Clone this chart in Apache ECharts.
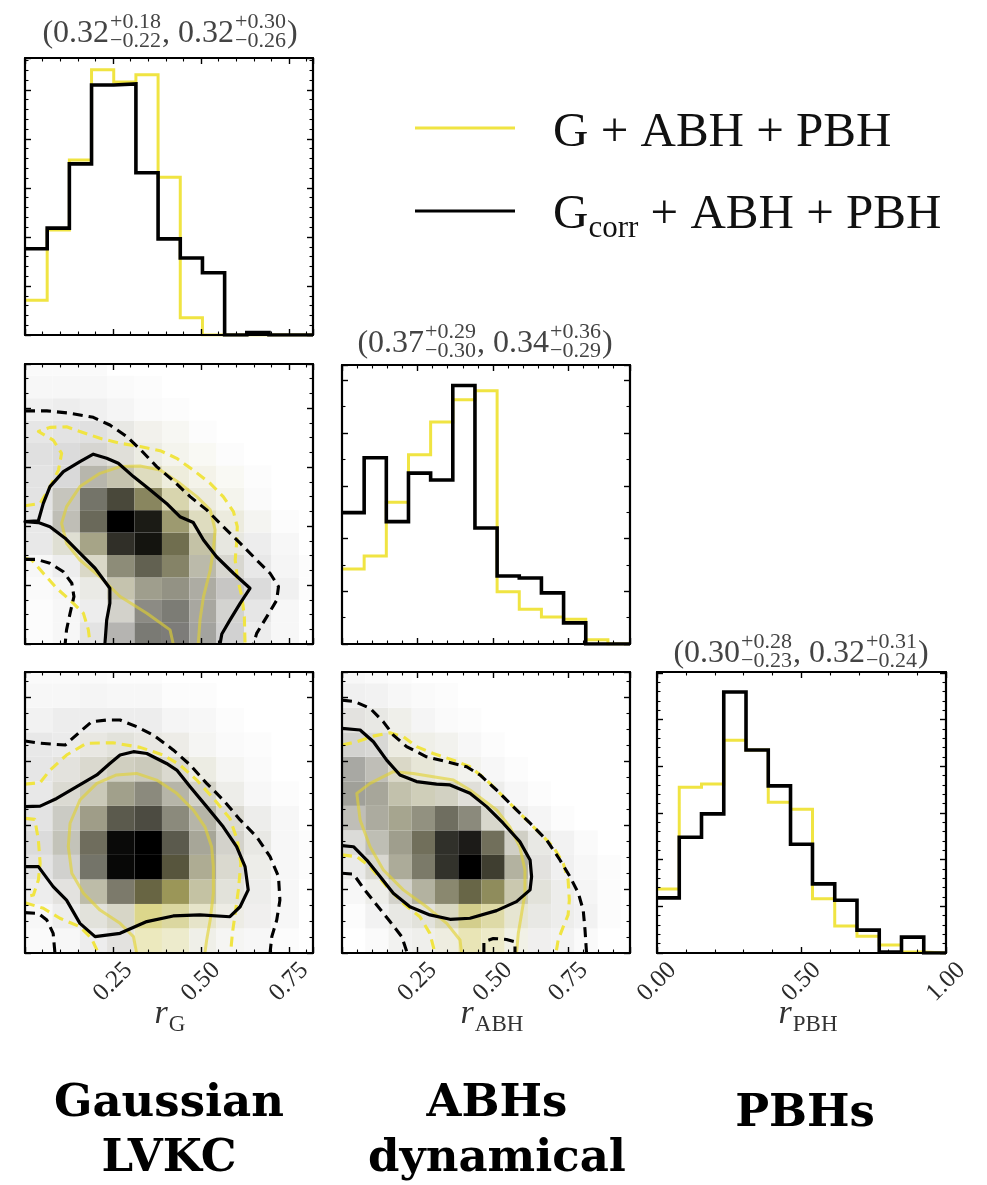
<!DOCTYPE html>
<html>
<head>
<meta charset="utf-8">
<script src="https://cdn.jsdelivr.net/npm/echarts@6/dist/echarts.min.js"></script>
<style>
  html, body { margin: 0; padding: 0; background: #ffffff; }
  #chart { width: 987px; height: 1185px; }
</style>
</head>
<body>
<div id="chart"></div>
<script>
// ---------------- 1D marginal histograms (bin edges + heights) ----------------
const binsG   = [0, 0.063, 0.126, 0.189, 0.252, 0.315, 0.378, 0.441, 0.504, 0.567, 0.630, 0.693, 0.756, 0.818];
const binsABH = [0, 0.0734, 0.1468, 0.2202, 0.2936, 0.367, 0.4404, 0.5138, 0.5872, 0.6606, 0.734, 0.8074, 0.8808, 0.954];
const binsPBH = [0, 0.077, 0.154, 0.231, 0.308, 0.385, 0.462, 0.538, 0.615, 0.692, 0.769, 0.846, 0.923, 1.0];

// "G + ABH + PBH" model (yellow) and "G_corr + ABH + PBH" model (black)
const histG_base    = [0.71, 2.14, 3.57, 5.41, 5.16, 5.31, 3.22, 0.35, 0, 0, 0, 0, 0];
const histG_corr    = [1.76, 2.18, 3.49, 5.10, 5.12, 3.31, 1.96, 1.57, 1.27, 0, 0.05, 0, 0];
const histABH_base  = [1.42, 1.67, 2.69, 3.59, 4.21, 4.63, 4.80, 0.99, 0.66, 0.51, 0.47, 0.08, 0];
const histABH_corr  = [2.49, 3.53, 2.32, 3.24, 3.11, 4.90, 2.20, 1.29, 1.25, 0.97, 0.40, 0, 0];
const histPBH_base  = [1.37, 3.55, 3.62, 4.56, 4.35, 3.23, 3.08, 1.16, 0.58, 0.36, 0.17, 0.02, 0];
const histPBH_corr  = [1.18, 2.48, 2.98, 5.59, 4.35, 3.58, 2.33, 1.48, 1.13, 0.49, 0.02, 0.34, 0];

// ---------------- 2D histogram bin edges ----------------
const edges2dG    = [0, 0.078, 0.156, 0.233, 0.311, 0.389, 0.467, 0.544, 0.622, 0.700, 0.778, 0.856];
const edges2dABHy = [0, 0.074, 0.150, 0.226, 0.302, 0.378, 0.454, 0.530, 0.606, 0.682, 0.758, 0.834, 0.910, 0.986];
const edges2dABHx = [0, 0.077, 0.154, 0.231, 0.308, 0.385, 0.462, 0.539, 0.616, 0.693, 0.770, 0.847, 0.924, 1.001];
const edges2dPBH  = [0, 0.096, 0.192, 0.288, 0.384, 0.480, 0.576, 0.672, 0.768, 0.864, 0.960, 1.056, 1.152];

// 2D densities (percent of peak), rows from lowest y bin upward.
// densK* : G_corr model (grey scale), densY* : G model (yellow tint)
const densK_G_ABH = [
  [1, 3, 11, 29, 52, 51, 36, 18, 7, 3, 0],
  [1, 3, 7, 17, 45, 51, 34, 17, 10, 3, 0],
  [2, 4, 8, 22, 37, 42, 32, 22, 14, 6, 1],
  [3, 7, 14, 44, 61, 47, 26, 15, 9, 4, 1],
  [9, 12, 34, 81, 92, 55, 22, 9, 7, 3, 0],
  [9, 25, 58, 100, 89, 37, 12, 7, 4, 1, 0],
  [11, 22, 54, 71, 45, 14, 7, 4, 2, 0, 0],
  [11, 15, 28, 22, 12, 6, 4, 2, 1, 0, 0],
  [12, 14, 16, 12, 7, 4, 2, 1, 0, 0, 0],
  [10, 11, 12, 9, 5, 3, 1, 0, 0, 0, 0],
  [6, 7, 6, 4, 2, 1, 0, 0, 0, 0, 0],
  [3, 3, 3, 2, 1, 0, 0, 0, 0, 0, 0],
  [2, 2, 2, 0, 0, 0, 0, 0, 0, 0, 0]
];
const densY_G_ABH = [
  [0, 0, 0, 3, 6, 4, 3, 0, 0, 0, 0],
  [0, 0, 0, 5, 7, 8, 6, 2, 0, 0, 0],
  [0, 0, 3, 15, 15, 13, 7, 2, 0, 0, 0],
  [0, 0, 11, 19, 22, 29, 12, 5, 0, 0, 0],
  [0, 7, 24, 20, 30, 38, 20, 4, 0, 0, 0],
  [0, 6, 19, 0, 30, 37, 18, 8, 2, 0, 0],
  [0, 6, 13, 27, 39, 25, 8, 4, 0, 0, 0],
  [0, 0, 8, 15, 18, 10, 6, 3, 0, 0, 0],
  [0, 0, 3, 4, 5, 4, 3, 0, 0, 0, 0],
  [0, 0, 0, 2, 3, 2, 0, 0, 0, 0, 0],
  [0, 0, 0, 0, 0, 0, 0, 0, 0, 0, 0],
  [0, 0, 0, 0, 0, 0, 0, 0, 0, 0, 0],
  [0, 0, 0, 0, 0, 0, 0, 0, 0, 0, 0]
];
const densK_G_PBH = [
  [2, 3, 7, 11, 6, 6, 6, 4, 3, 1, 0],
  [3, 7, 11, 15, 11, 12, 9, 7, 6, 3, 0],
  [7, 11, 25, 51, 58, 37, 22, 11, 7, 3, 0],
  [11, 18, 54, 97, 100, 65, 31, 14, 7, 3, 1],
  [14, 23, 56, 96, 100, 64, 34, 17, 9, 3, 1],
  [11, 20, 37, 64, 70, 45, 28, 14, 7, 3, 0],
  [9, 14, 20, 36, 45, 28, 17, 7, 3, 1, 0],
  [10, 11, 14, 18, 20, 14, 7, 4, 2, 0, 0],
  [9, 8, 9, 11, 9, 7, 4, 2, 1, 0, 0],
  [5, 7, 7, 7, 7, 4, 3, 1, 0, 0, 0],
  [3, 3, 4, 3, 3, 1, 1, 0, 0, 0, 0],
  [2, 2, 2, 1, 1, 0, 0, 0, 0, 0, 0]
];
const densY_G_PBH = [
  [0, 0, 0, 2, 25, 18, 4, 1, 0, 0, 0],
  [0, 0, 4, 10, 47, 35, 16, 4, 1, 0, 0],
  [0, 2, 15, 17, 46, 55, 22, 5, 1, 0, 0],
  [0, 2, 13, 10, 0, 39, 20, 7, 2, 0, 0],
  [0, 7, 21, 10, 0, 20, 12, 5, 2, 0, 0],
  [0, 5, 19, 20, 19, 14, 10, 5, 1, 0, 0],
  [0, 5, 12, 18, 13, 10, 7, 2, 0, 0, 0],
  [0, 3, 7, 10, 10, 7, 5, 1, 0, 0, 0],
  [0, 0, 3, 4, 3, 3, 1, 0, 0, 0, 0],
  [0, 0, 0, 0, 0, 0, 0, 0, 0, 0, 0],
  [0, 0, 0, 0, 0, 0, 0, 0, 0, 0, 0],
  [0, 0, 0, 0, 0, 0, 0, 0, 0, 0, 0]
];
const densK_ABH_PBH = [
  [0, 2, 5, 6, 6, 7, 6, 5, 6, 5, 2, 0, 0],
  [1, 5, 9, 11, 14, 15, 11, 9, 9, 7, 5, 1, 0],
  [3, 7, 17, 29, 45, 58, 42, 20, 11, 7, 4, 1, 0],
  [8, 15, 32, 51, 80, 100, 75, 29, 11, 6, 3, 1, 0],
  [14, 25, 37, 55, 81, 89, 55, 18, 9, 5, 2, 0, 0],
  [25, 32, 34, 42, 56, 45, 15, 7, 4, 1, 0, 0, 0],
  [37, 34, 23, 18, 17, 12, 7, 3, 1, 0, 0, 0, 0],
  [34, 25, 14, 9, 7, 5, 3, 1, 0, 0, 0, 0, 0],
  [17, 15, 7, 6, 5, 3, 1, 0, 0, 0, 0, 0, 0],
  [11, 9, 6, 4, 2, 1, 0, 0, 0, 0, 0, 0, 0],
  [6, 5, 3, 2, 1, 0, 0, 0, 0, 0, 0, 0, 0],
  [3, 2, 1, 0, 0, 0, 0, 0, 0, 0, 0, 0, 0]
];
const densY_ABH_PBH = [
  [0, 0, 1, 2, 8, 28, 20, 6, 1, 0, 0, 0, 0],
  [0, 0, 2, 4, 14, 43, 32, 12, 2, 1, 0, 0, 0],
  [0, 2, 5, 14, 25, 41, 46, 17, 5, 1, 0, 0, 0],
  [1, 5, 14, 19, 20, 0, 30, 14, 2, 0, 0, 0, 0],
  [2, 7, 15, 25, 15, 18, 25, 7, 2, 0, 0, 0, 0],
  [5, 10, 18, 16, 17, 14, 7, 1, 0, 0, 0, 0, 0],
  [6, 10, 15, 14, 10, 4, 1, 0, 0, 0, 0, 0, 0],
  [4, 5, 11, 9, 5, 2, 0, 0, 0, 0, 0, 0, 0],
  [2, 2, 6, 4, 2, 0, 0, 0, 0, 0, 0, 0, 0],
  [2, 2, 3, 0, 0, 0, 0, 0, 0, 0, 0, 0, 0],
  [0, 0, 0, 0, 0, 0, 0, 0, 0, 0, 0, 0, 0],
  [0, 0, 0, 0, 0, 0, 0, 0, 0, 0, 0, 0, 0]
];

// ---------------- credible-region contours ([x, y] in parameter units) ----------------
// r_G vs r_ABH
const cGA_kDash    = [[0,0.791],[0.062,0.791],[0.128,0.783],[0.194,0.769],[0.241,0.743],[0.289,0.704],[0.327,0.661],[0.374,0.602],[0.421,0.554],[0.469,0.500],[0.516,0.455],[0.563,0.398],[0.611,0.342],[0.658,0.285],[0.696,0.240],[0.720,0.195],[0.715,0.149],[0.687,0.093],[0.658,0.036],[0.649,0]];
const cGA_kDashLow = [[0,0.287],[0.033,0.287],[0.071,0.274],[0.109,0.245],[0.133,0.206],[0.139,0.161],[0.128,0.104],[0.118,0.048],[0.114,0]];
const cGA_kSolid   = [[0.227,0],[0.232,0.081],[0.241,0.138],[0.241,0.189],[0.199,0.257],[0.156,0.308],[0.114,0.359],[0.071,0.398],[0.038,0.412],[0,0.415],[0.038,0.418],[0.052,0.477],[0.071,0.534],[0.109,0.585],[0.156,0.619],[0.194,0.644],[0.232,0.630],[0.265,0.613],[0.308,0.568],[0.355,0.523],[0.402,0.477],[0.440,0.432],[0.478,0.412],[0.507,0.353],[0.544,0.296],[0.592,0.240],[0.639,0.189],[0.611,0.138],[0.582,0.081],[0.559,0.034],[0.554,0]];
const cGA_yDash    = [[0,0.469],[0.043,0.477],[0.071,0.534],[0.095,0.590],[0.104,0.647],[0.080,0.692],[0.038,0.721],[0.071,0.735],[0.118,0.737],[0.156,0.721],[0.213,0.698],[0.270,0.681],[0.327,0.670],[0.384,0.656],[0.431,0.630],[0.478,0.590],[0.526,0.545],[0.563,0.500],[0.592,0.449],[0.603,0.398],[0.601,0.342],[0.597,0.285],[0.603,0.223],[0.616,0.161],[0.623,0.093],[0.625,0]];
const cGA_yDashLow = [[0,0.291],[0.019,0.285],[0.052,0.240],[0.090,0.189],[0.128,0.149],[0.166,0.104],[0.180,0.048],[0.185,0]];
const cGA_ySolid   = [[0.421,0],[0.412,0.048],[0.346,0.104],[0.270,0.161],[0.213,0.228],[0.156,0.285],[0.118,0.342],[0.104,0.409],[0.118,0.466],[0.156,0.534],[0.213,0.579],[0.270,0.602],[0.327,0.604],[0.384,0.590],[0.440,0.545],[0.488,0.500],[0.526,0.455],[0.540,0.387],[0.535,0.319],[0.526,0.251],[0.507,0.161],[0.497,0.081],[0.492,0]];
// r_G vs r_PBH
const cGP_kDash    = [[0,0.830],[0.043,0.821],[0.114,0.814],[0.156,0.866],[0.189,0.905],[0.232,0.912],[0.270,0.912],[0.317,0.886],[0.365,0.853],[0.421,0.795],[0.469,0.736],[0.516,0.664],[0.563,0.599],[0.611,0.521],[0.658,0.455],[0.696,0.377],[0.720,0.299],[0.724,0.207],[0.715,0.129],[0.701,0.064],[0.696,0]];
const cGP_kDashLow = [[0,0.158],[0.038,0.155],[0.062,0.129],[0.080,0.077],[0.085,0]];
const cGP_kSolid   = [[0,0.573],[0.043,0.575],[0.090,0.605],[0.147,0.651],[0.204,0.697],[0.241,0.742],[0.270,0.775],[0.308,0.788],[0.346,0.781],[0.402,0.742],[0.431,0.716],[0.469,0.651],[0.516,0.573],[0.563,0.494],[0.601,0.416],[0.625,0.338],[0.634,0.247],[0.611,0.181],[0.582,0.142],[0.497,0.149],[0.421,0.145],[0.346,0.123],[0.270,0.077],[0.199,0.064],[0.156,0.116],[0.118,0.207],[0.080,0.260],[0.038,0.338],[0,0.338]];
const cGP_yDash    = [[0,0.661],[0.043,0.667],[0.071,0.716],[0.118,0.775],[0.175,0.821],[0.251,0.823],[0.327,0.805],[0.393,0.775],[0.440,0.736],[0.488,0.677],[0.535,0.605],[0.582,0.527],[0.603,0.442],[0.613,0.351],[0.606,0.247],[0.597,0.155],[0.589,0.077],[0.584,0]];
const cGP_yDashMid = [[0,0.527],[0.028,0.523],[0.038,0.442],[0.043,0.351],[0.038,0.286],[0.024,0.227],[0,0.220]];
const cGP_yDashLow = [[0,0.197],[0.052,0.175],[0.099,0.136],[0.156,0.103],[0.189,0.057],[0.208,0]];
const cGP_ySolid   = [[0.317,0],[0.308,0.064],[0.270,0.116],[0.213,0.168],[0.166,0.234],[0.133,0.312],[0.123,0.416],[0.128,0.508],[0.156,0.599],[0.204,0.664],[0.260,0.697],[0.317,0.703],[0.374,0.677],[0.431,0.625],[0.478,0.560],[0.511,0.494],[0.530,0.416],[0.535,0.338],[0.535,0.234],[0.526,0.129],[0.516,0.051],[0.511,0]];
// r_ABH vs r_PBH
const cAP_kDash    = [[0,0.990],[0.043,0.984],[0.093,0.958],[0.137,0.905],[0.170,0.853],[0.214,0.808],[0.280,0.768],[0.347,0.749],[0.413,0.729],[0.457,0.697],[0.512,0.638],[0.567,0.573],[0.623,0.508],[0.678,0.442],[0.722,0.364],[0.755,0.299],[0.783,0.234],[0.799,0.168],[0.805,0.090],[0.810,0]];
const cAP_kDashLow = [[0,0.312],[0.038,0.309],[0.071,0.253],[0.115,0.188],[0.159,0.123],[0.198,0.064],[0.216,0]];
const cAP_kDashIsl = [[0.470,0],[0.470,0.044],[0.501,0.057],[0.545,0.053],[0.573,0.044],[0.573,0]];
const cAP_kSolid   = [[0,0.879],[0.060,0.873],[0.104,0.827],[0.148,0.755],[0.192,0.697],[0.247,0.671],[0.313,0.661],[0.358,0.658],[0.424,0.625],[0.479,0.573],[0.534,0.508],[0.589,0.436],[0.623,0.364],[0.628,0.299],[0.623,0.247],[0.578,0.201],[0.512,0.166],[0.424,0.136],[0.358,0.132],[0.291,0.149],[0.225,0.181],[0.170,0.234],[0.126,0.299],[0.082,0.364],[0.038,0.416],[0,0.420]];
const cAP_yDash    = [[0,0.814],[0.049,0.827],[0.104,0.849],[0.159,0.862],[0.203,0.847],[0.247,0.808],[0.302,0.781],[0.369,0.755],[0.424,0.729],[0.479,0.677],[0.534,0.612],[0.589,0.547],[0.645,0.481],[0.700,0.416],[0.733,0.351],[0.749,0.286],[0.753,0.207],[0.749,0.149],[0.733,0.103],[0.716,0.051],[0.709,0]];
const cAP_yDashLow = [[0,0.384],[0.049,0.377],[0.093,0.338],[0.148,0.260],[0.203,0.194],[0.258,0.142],[0.291,0.077],[0.308,0]];
const cAP_ySolid   = [[0.396,0],[0.391,0.051],[0.347,0.116],[0.280,0.181],[0.203,0.247],[0.137,0.325],[0.093,0.416],[0.060,0.521],[0.049,0.625],[0.093,0.664],[0.170,0.710],[0.236,0.703],[0.302,0.690],[0.369,0.677],[0.424,0.638],[0.468,0.599],[0.512,0.560],[0.556,0.494],[0.589,0.416],[0.606,0.325],[0.606,0.234],[0.595,0.155],[0.584,0.077],[0.578,0]];

// ---------------- text ----------------
const legendNames = ['G + ABH + PBH', 'G', 'corr', ' + ABH + PBH'];
const tickFmt = v => v.toFixed(2);

// ================================================================
const YELLOW = '#f0e442';
const YELLOW_RGB = [240, 228, 66];
const SERIF = '"Liberation Serif", "DejaVu Serif", serif';
const BOLD_SERIF = '"DejaVu Serif", "Liberation Serif", serif';

const grids = [
  { left: 25,  top: 58,  width: 288, height: 277 }, // r_G marginal
  { left: 25,  top: 364, width: 288, height: 280 }, // r_G – r_ABH
  { left: 342, top: 365, width: 288, height: 279 }, // r_ABH marginal
  { left: 25,  top: 672, width: 288, height: 281 }, // r_G – r_PBH
  { left: 342, top: 672, width: 288, height: 281 }, // r_ABH – r_PBH
  { left: 657, top: 672, width: 289, height: 281 }  // r_PBH marginal
].map(g => Object.assign({ containLabel: false, outerBoundsMode: 'none' }, g));

// [min, max, interval, minorSplit]
const axisSpecs = [
  { x: [0, 0.818, 0.25, 5], y: [0, 5.65, 1, 5] },
  { x: [0, 0.818, 0.25, 5], y: [0, 0.95, 0.2, 4] },
  { x: [0, 0.954, 0.25, 5], y: [0, 5.29, 1, 2] },
  { x: [0, 0.818, 0.25, 5], y: [0, 1.1, 0.25, 4], labels: { min: false, max: false } },
  { x: [0, 0.954, 0.25, 5], y: [0, 1.1, 0.25, 4], labels: { min: false, max: false } },
  { x: [0, 1.0, 0.5, 5],    y: [0, 6.02, 1, 5],   labels: { min: true, max: true } }
];

function makeAxis(gi, pos, spec, labels) {
  const [min, max, interval, split] = spec;
  const ax = {
    type: 'value', gridIndex: gi, position: pos, min, max, interval, z: 10,
    axisLine: { show: true, onZero: false, lineStyle: { color: '#000', width: 2.2 } },
    axisTick: { show: true, inside: true, length: 6, lineStyle: { color: '#000', width: 1.4 } },
    minorTick: { show: true, splitNumber: split, length: 3.5, lineStyle: { color: '#000', width: 1.1 } },
    splitLine: { show: false },
    minorSplitLine: { show: false },
    axisLabel: { show: false },
    silent: true
  };
  if (labels) {
    ax.axisLabel = {
      show: true, rotate: 45, align: 'center', verticalAlign: 'middle', margin: 29,
      fontFamily: SERIF, fontSize: 25, color: '#2a2a2a',
      showMinLabel: labels.min, showMaxLabel: labels.max,
      formatter: tickFmt
    };
  }
  return ax;
}

const xAxes = [], yAxes = [];
axisSpecs.forEach((s, gi) => {
  xAxes.push(makeAxis(gi, 'bottom', s.x, s.labels));
  xAxes.push(makeAxis(gi, 'top', s.x, null));
  yAxes.push(makeAxis(gi, 'left', s.y, null));
  yAxes.push(makeAxis(gi, 'right', s.y, null));
});

// ---------------- series builders ----------------
function histSeries(gi, edges, vals, color, width, z) {
  const pts = edges.map((e, i) => [e, vals[Math.min(i, vals.length - 1)]]);
  return {
    type: 'line', xAxisIndex: gi * 2, yAxisIndex: gi * 2, data: pts, step: 'end',
    symbol: 'none', showSymbol: false, z, silent: true,
    lineStyle: { color, width, join: 'miter', cap: 'butt' }
  };
}

function cellColor(k, t) {
  const kk = k / 100, tt = Math.min(1, t / 90);
  const ch = i => Math.round((255 - tt * (255 - YELLOW_RGB[i])) * (1 - kk));
  return 'rgb(' + ch(0) + ',' + ch(1) + ',' + ch(2) + ')';
}

function cellSeries(gi, xEdges, yEdges, K, T) {
  const data = [];
  for (let r = 0; r < K.length; r++) {
    for (let c = 0; c < K[r].length; c++) {
      if (K[r][c] === 0 && T[r][c] === 0) continue;
      data.push([xEdges[c], xEdges[c + 1], yEdges[r], yEdges[r + 1], K[r][c], T[r][c]]);
    }
  }
  return {
    type: 'custom', coordinateSystem: 'cartesian2d', xAxisIndex: gi * 2, yAxisIndex: gi * 2,
    data, z: 1, silent: true,
    encode: { x: [0, 1], y: [2, 3] },
    renderItem(params, api) {
      const p0 = api.coord([api.value(0), api.value(2)]);
      const p1 = api.coord([api.value(1), api.value(3)]);
      const rect = echarts.graphic.clipRectByRect(
        { x: p0[0], y: p1[1], width: p1[0] - p0[0], height: p0[1] - p1[1] },
        { x: params.coordSys.x, y: params.coordSys.y, width: params.coordSys.width, height: params.coordSys.height }
      );
      if (!rect) return null;
      return { type: 'rect', shape: rect, style: { fill: cellColor(api.value(4), api.value(5)) } };
    }
  };
}

const STYLE = {
  kSolid: { color: '#000', width: 3.2 },
  kDash:  { color: '#000', width: 3.1, type: [10, 6] },
  yDash:  { color: YELLOW, width: 3.1, type: [10, 6] },
  ySolid: { color: 'rgba(226,210,46,0.62)', width: 3.0 }
};
const ZORD = { ySolid: 3, yDash: 4, kSolid: 5, kDash: 5 };

function contour(gi, pts, kind) {
  return {
    type: 'line', xAxisIndex: gi * 2, yAxisIndex: gi * 2, data: pts,
    symbol: 'none', showSymbol: false, smooth: false, silent: true,
    z: ZORD[kind], lineStyle: Object.assign({ join: 'round' }, STYLE[kind])
  };
}

const series = [
  // r_G marginal
  histSeries(0, binsG, histG_base, YELLOW, 3, 2),
  histSeries(0, binsG, histG_corr, '#000', 3.6, 3),
  // r_G – r_ABH
  cellSeries(1, edges2dG, edges2dABHy, densK_G_ABH, densY_G_ABH),
  contour(1, cGA_ySolid, 'ySolid'),
  contour(1, cGA_yDash, 'yDash'),
  contour(1, cGA_yDashLow, 'yDash'),
  contour(1, cGA_kSolid, 'kSolid'),
  contour(1, cGA_kDash, 'kDash'),
  contour(1, cGA_kDashLow, 'kDash'),
  // r_ABH marginal
  histSeries(2, binsABH, histABH_base, YELLOW, 3, 2),
  histSeries(2, binsABH, histABH_corr, '#000', 3.6, 3),
  // r_G – r_PBH
  cellSeries(3, edges2dG, edges2dPBH, densK_G_PBH, densY_G_PBH),
  contour(3, cGP_ySolid, 'ySolid'),
  contour(3, cGP_yDash, 'yDash'),
  contour(3, cGP_yDashMid, 'yDash'),
  contour(3, cGP_yDashLow, 'yDash'),
  contour(3, cGP_kSolid, 'kSolid'),
  contour(3, cGP_kDash, 'kDash'),
  contour(3, cGP_kDashLow, 'kDash'),
  // r_ABH – r_PBH
  cellSeries(4, edges2dABHx, edges2dPBH, densK_ABH_PBH, densY_ABH_PBH),
  contour(4, cAP_ySolid, 'ySolid'),
  contour(4, cAP_yDash, 'yDash'),
  contour(4, cAP_yDashLow, 'yDash'),
  contour(4, cAP_kSolid, 'kSolid'),
  contour(4, cAP_kDash, 'kDash'),
  contour(4, cAP_kDashLow, 'kDash'),
  contour(4, cAP_kDashIsl, 'kDash'),
  // r_PBH marginal
  histSeries(5, binsPBH, histPBH_base, YELLOW, 3, 2),
  histSeries(5, binsPBH, histPBH_corr, '#000', 3.6, 3)
];

// ---------------- typeset text helpers (graphic elements) ----------------
const measureCtx = document.createElement('canvas').getContext('2d');
function fontStr(size, italic, bold, family) {
  return (italic ? 'italic ' : 'normal ') + (bold ? 'bold ' : 'normal ') + size + 'px ' + (family || SERIF);
}
function textW(str, font) { measureCtx.font = font; return measureCtx.measureText(str).width; }

function textEl(str, x, baseline, font, size, color, align) {
  const y = baseline - 0.3 * size;
  return {
    type: 'text', x: 0, y: 0, silent: true, z: 20,
    style: {
      text: str, x, y, font, fill: color,
      align: align || 'left', verticalAlign: 'middle',
      textAlign: align || 'left', textVerticalAlign: 'middle'
    }
  };
}

// parts: {t, size, italic, dy} or {sup, sub, size, rise, drop}
function mathLine(parts, anchorX, baseline, color, anchor) {
  const widths = parts.map(p => {
    if (p.t !== undefined) return textW(p.t, fontStr(p.size, p.italic)) + (p.gap || 0);
    return Math.max(textW(p.sup, fontStr(p.size)), textW(p.sub, fontStr(p.size))) + (p.gap || 0);
  });
  const total = widths.reduce((a, b) => a + b, 0);
  let x = anchor === 'left' ? anchorX : anchorX - total / 2;
  const els = [];
  parts.forEach((p, i) => {
    if (p.t !== undefined) {
      els.push(textEl(p.t, x, baseline + (p.dy || 0), fontStr(p.size, p.italic), p.size, color));
    } else {
      els.push(textEl(p.sup, x, baseline - p.rise, fontStr(p.size), p.size, color));
      els.push(textEl(p.sub, x, baseline + p.drop, fontStr(p.size), p.size, color));
    }
    x += widths[i];
  });
  return els;
}

function summary(m1, up1, lo1, m2, up2, lo2) {
  return [
    { t: '(' + m1, size: 32, gap: 1 },
    { sup: up1, sub: lo1, size: 22, rise: 14, drop: 5, gap: 1 },
    { t: ', ' + m2, size: 32, gap: 1 },
    { sup: up2, sub: lo2, size: 22, rise: 14, drop: 5, gap: 1 },
    { t: ')', size: 32 }
  ];
}

const TITLE_GREY = '#444';
const graphics = [];
// panel summaries (median with credible interval for each model)
graphics.push(...mathLine(summary('0.32', '+0.18', '\u22120.22', '0.32', '+0.30', '\u22120.26'), 170, 43, TITLE_GREY));
graphics.push(...mathLine(summary('0.37', '+0.29', '\u22120.30', '0.34', '+0.36', '\u22120.29'), 485, 353, TITLE_GREY));
graphics.push(...mathLine(summary('0.30', '+0.28', '\u22120.23', '0.32', '+0.31', '\u22120.24'), 801, 663, TITLE_GREY));

// axis names
graphics.push(...mathLine([{ t: 'r', size: 34, italic: true, gap: 1 }, { t: 'G', size: 23, dy: 8 }], 170, 1024, '#333'));
graphics.push(...mathLine([{ t: 'r', size: 34, italic: true, gap: 1 }, { t: 'ABH', size: 23, dy: 8 }], 492, 1024, '#333'));
graphics.push(...mathLine([{ t: 'r', size: 34, italic: true, gap: 1 }, { t: 'PBH', size: 23, dy: 8 }], 808, 1024, '#333'));

// legend
graphics.push({ type: 'line', silent: true, z: 20, shape: { x1: 415, y1: 128, x2: 515, y2: 128 }, style: { stroke: YELLOW, lineWidth: 3 } });
graphics.push({ type: 'line', silent: true, z: 20, shape: { x1: 415, y1: 211, x2: 515, y2: 211 }, style: { stroke: '#000', lineWidth: 3 } });
graphics.push(...mathLine([{ t: legendNames[0], size: 49 }], 553, 148, '#111', 'left'));
graphics.push(...mathLine([
  { t: legendNames[1], size: 49 },
  { t: legendNames[2], size: 31, dy: 8 },
  { t: legendNames[3], size: 49 }
], 553, 230, '#111', 'left'));

// column captions
const capFont = fontStr(45, false, true, BOLD_SERIF);
[
  ['Gaussian', 169, 1118], ['LVKC', 169, 1173],
  ['ABHs', 497, 1118], ['dynamical', 497, 1173],
  ['PBHs', 805, 1128]
].forEach(([s, x, b]) => graphics.push(textEl(s, x, b, capFont, 45, '#000', 'center')));

const chart = echarts.init(document.getElementById('chart'), null, { renderer: 'canvas' });
chart.setOption({
  backgroundColor: '#ffffff',
  animation: false,
  grid: grids,
  xAxis: xAxes,
  yAxis: yAxes,
  series,
  graphic: { elements: graphics }
});
</script>
</body>
</html>
